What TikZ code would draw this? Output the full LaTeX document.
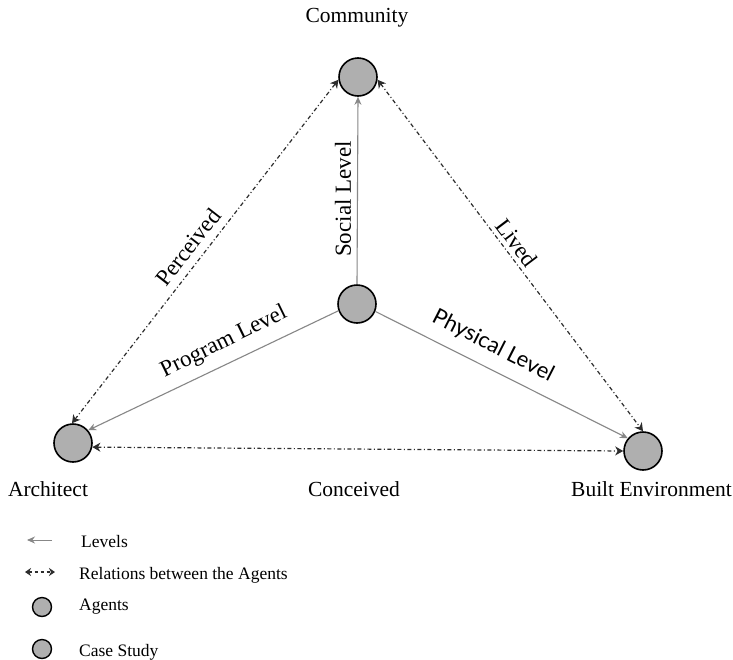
\documentclass[tikz,border=0pt]{standalone}
\usepackage{fontspec}
\setmainfont{Liberation Serif}
\newfontfamily\sansf{Lato}
\usetikzlibrary{arrows.meta}
\definecolor{agentfill}{RGB}{175,175,175}
\definecolor{levelgray}{RGB}{135,135,135}
\definecolor{relgray}{RGB}{45,45,45}
\begin{document}
\begin{tikzpicture}[x=1pt,y=-1pt,
  agent/.style={circle,draw=black,line width=1.6pt,fill=agentfill,minimum size=38pt,inner sep=0pt},
  smallagent/.style={circle,draw=black,line width=1.4pt,fill=agentfill,minimum size=19pt,inner sep=0pt},
  lbl/.style={font=\fontsize{21.5}{24}\selectfont,inner sep=0pt},
  rlbl/.style={font=\fontsize{23}{26}\selectfont,inner sep=0pt},
  leglbl/.style={font=\fontsize{17.5}{20}\selectfont,inner sep=0pt,anchor=west},
  levelline/.style={draw=levelgray,line width=1.1pt,-{Stealth[length=8pt,width=7pt]}},
  relline/.style={draw=relgray,line width=1.2pt,dash pattern=on 4pt off 2.5pt on 1pt off 2.5pt,{Stealth[length=8pt,width=9pt,inset=2.5pt]}-{Stealth[length=8pt,width=9pt,inset=2.5pt]}}
]
\path[fill=white] (0,0) rectangle (733,659);
\useasboundingbox (0,0) rectangle (733,659);

% agents
\node[agent] (com) at (358,77) {};
\node[agent] (cen) at (357,304) {};
\node[agent] (arc) at (73,443) {};
\node[agent] (be) at (643,451) {};

% agent names
\node[lbl] (tcom) at (357,18) {Community};
\node[lbl] (tarc) at (48,489) {Architect};
\node[lbl] (tcon) at (354,489) {Conceived};
\node[lbl,anchor=east] (tbe) at (732,489) {Built Environment};

% levels
\draw[levelline] (cen.north) -- (com.south);
\draw[levelline] (cen.200) -- (arc.40);
\draw[levelline] (cen.-22) -- (be.140);

% relations
\draw[relline] (arc.93) -- (com.188);
\draw[relline] (com.-8) -- (be.90);
\draw[relline] (arc.-12) -- (be.180);

% rotated labels
\node[rlbl,rotate=52] (tper) at (188,247) {Perceived};
\node[rlbl,rotate=-53] (tliv) at (517,243) {Lived};
\node[rlbl,rotate=90] (tsoc) at (343,199) {Social Level};
\node[rlbl,rotate=26] (tpro) at (224,342) {Program Level};
\node[rlbl,rotate=-27,font=\sansf\fontsize{22}{26}\selectfont] (tphy) at (493,346) {Physical Level};

% legend
\coordinate (l1a) at (52,540);
\coordinate (l1b) at (27,540);
\draw[levelline,line width=0.9pt] (l1a) -- (l1b);
\node[leglbl] (ll1) at (81,542) {Levels};
\coordinate (l2a) at (25,572);
\coordinate (l2b) at (55,572);
\draw[relline,dash pattern=on 3pt off 3pt,{Stealth[length=6pt,width=8pt,inset=2pt]}-{Stealth[length=6pt,width=8pt,inset=2pt]}] (l2a) -- (l2b);
\node[leglbl] (ll2) at (79,575) {Relations between the Agents};
\node[smallagent] (lag) at (42,607) {};
\node[leglbl] (ll3) at (79,607) {Agents};
\node[smallagent] (lcs) at (42,649) {};
\node[leglbl] (ll4) at (79,652) {Case Study};
\end{tikzpicture}
\end{document}
